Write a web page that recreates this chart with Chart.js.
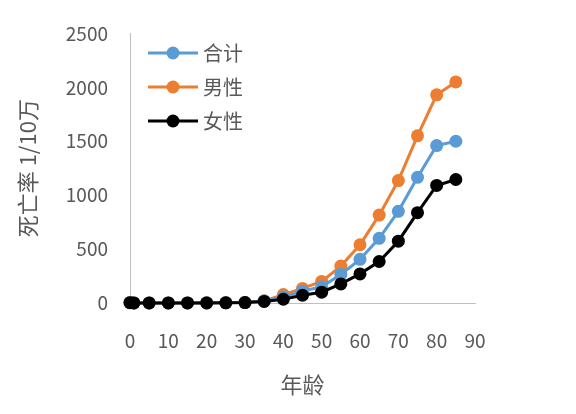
<!DOCTYPE html>
<html>
<head>
<meta charset="utf-8">
<script src="https://cdn.jsdelivr.net/npm/chart.js@4"></script>
<style>
  html, body { margin: 0; padding: 0; background: #fff; }
  #wrap { width: 576px; height: 414px; }
</style>
</head>
<body>
<div id="wrap"><canvas id="chart"></canvas></div>
<script>
// ages and death rates per 100k
const ages = [0, 1, 5, 10, 15, 20, 25, 30, 35, 40, 45, 50, 55, 60, 65, 70, 75, 80, 85];
const total = [4, 1, 1, 1, 1, 2, 3, 5, 18, 55, 110, 150, 265, 405, 600, 850, 1165, 1460, 1500];
const male = [5, 1, 1, 1, 1, 2, 3, 5, 20, 78, 135, 200, 342, 540, 815, 1135, 1550, 1930, 2050];
const female = [3, 1, 1, 1, 1, 1, 2, 4, 15, 35, 72, 100, 177, 270, 385, 573, 838, 1090, 1145];
const seriesNames = ['合计', '男性', '女性'];
const yTicks = [0, 500, 1000, 1500, 2000, 2500];
const xTicks = [0, 10, 20, 30, 40, 50, 60, 70, 80, 90];

const textColor = '#595959';
const font = '"Noto Sans CJK SC", "Noto Sans", sans-serif';

function pts(vals) {
  return ages.map((a, i) => ({ x: a, y: vals[i] }));
}

function line(label, vals, color, order) {
  return {
    label: label,
    data: pts(vals),
    borderColor: color,
    backgroundColor: color,
    borderWidth: 3,
    pointRadius: 6.5,
    pointHoverRadius: 6.5,
    pointBorderWidth: 0,
    tension: 0,
    clip: false,
    order: order
  };
}

// legend drawn inside the plot, line with a dot in the middle
const insideLegend = {
  id: 'insideLegend',
  afterDraw(chart) {
    const ctx = chart.ctx;
    ctx.save();
    chart.data.datasets.forEach((ds, i) => {
      const y = 53 + i * 34;
      ctx.strokeStyle = ds.borderColor;
      ctx.lineWidth = 3;
      ctx.beginPath();
      ctx.moveTo(148, y);
      ctx.lineTo(198, y);
      ctx.stroke();
      ctx.fillStyle = ds.borderColor;
      ctx.beginPath();
      ctx.arc(173, y, 6.5, 0, Math.PI * 2);
      ctx.fill();
      ctx.fillStyle = textColor;
      ctx.font = '20px ' + font;
      ctx.textBaseline = 'middle';
      ctx.fillText(ds.label, 203, y);
    });
    ctx.restore();
  }
};

new Chart(document.getElementById('chart'), {
  type: 'line',
  data: {
    datasets: [
      line(seriesNames[0], total, '#5B9BD5', 1),
      line(seriesNames[1], male, '#ED7D31', 2),
      line(seriesNames[2], female, '#000000', 0)
    ]
  },
  options: {
    responsive: true,
    maintainAspectRatio: false,
    animation: false,
    layout: { padding: { left: 0, right: 101, top: 27, bottom: 0 } },
    plugins: {
      legend: { display: false },
      tooltip: { enabled: false }
    },
    scales: {
      x: {
        type: 'linear',
        min: 0,
        max: 90,
        afterBuildTicks: s => { s.ticks = xTicks.map(v => ({ value: v })); },
        grid: { display: false, drawTicks: false },
        border: { display: true, color: '#BFBFBF', width: 1 },
        ticks: { color: textColor, font: { family: font, size: 19 }, padding: 26, callback: v => String(v) },
        title: { display: true, text: '年龄', color: textColor, font: { family: font, size: 22 }, padding: { top: 0, bottom: 16 } },
        afterFit: s => { s.height = 111; }
      },
      y: {
        min: 0,
        max: 2500,
        afterBuildTicks: s => { s.ticks = yTicks.map(v => ({ value: v })); },
        grid: { display: false, drawTicks: false },
        border: { display: true, color: '#BFBFBF', width: 1 },
        ticks: { color: textColor, font: { family: font, size: 19 }, padding: 22, callback: v => String(v) },
        title: { display: true, text: '死亡率 1/10万', color: textColor, font: { family: font, size: 22 }, padding: { bottom: 0, top: 14 } },
        afterFit: s => { s.width = 130; }
      }
    }
  },
  plugins: [insideLegend]
});
</script>
</body>
</html>
